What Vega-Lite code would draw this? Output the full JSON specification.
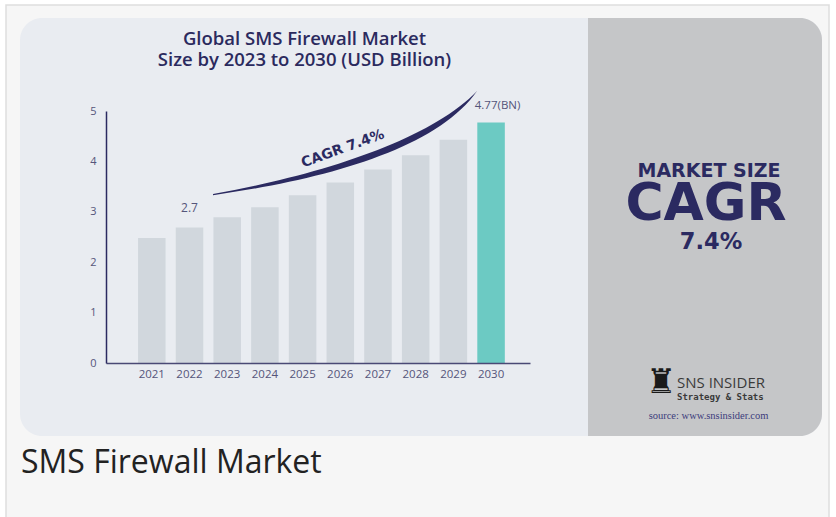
{
  "$schema": "https://vega.github.io/schema/vega-lite/v6.json",
  "width": 424,
  "height": 252,
  "autosize": {"type": "none"},
  "padding": {"left": 106, "top": 111, "right": 306, "bottom": 154},
  "background": "#ffffff",
  "config": {"view": {"stroke": null}, "font": "Open Sans"},
  "data": {
    "values": [
      {"year": "2021", "value": 2.48, "label": ""},
      {"year": "2022", "value": 2.69, "label": "2.7"},
      {"year": "2023", "value": 2.89, "label": ""},
      {"year": "2024", "value": 3.09, "label": ""},
      {"year": "2025", "value": 3.33, "label": ""},
      {"year": "2026", "value": 3.58, "label": ""},
      {"year": "2027", "value": 3.84, "label": ""},
      {"year": "2028", "value": 4.12, "label": ""},
      {"year": "2029", "value": 4.43, "label": ""},
      {"year": "2030", "value": 4.77, "label": "4.77(BN)"}
    ]
  },
  "layer": [
    {
      "data": {"values": [{}]},
      "mark": {"type": "rect", "x": -100, "x2": 723, "y": -106, "y2": 419, "fill": "#f6f6f6", "stroke": "#dedede", "strokeWidth": 1.5},
      "encoding": {}
    },
    {
      "data": {"values": [{}]},
      "mark": {"type": "rect", "x": -86, "x2": 716, "y": -93, "y2": 325, "fill": "#e9ecf1", "cornerRadius": 22},
      "encoding": {}
    },
    {
      "data": {"values": [{}]},
      "mark": {"type": "rect", "x": 482, "x2": 716, "y": -93, "y2": 325, "fill": "#c5c6c8", "cornerRadiusTopRight": 22, "cornerRadiusBottomRight": 22},
      "encoding": {}
    },
    {
      "data": {"values": [{}]},
      "mark": {"type": "text", "text": "Global SMS Firewall Market", "x": 198.5, "y": -72, "align": "center", "baseline": "middle", "font": "Open Sans", "fontSize": 18.5, "fontWeight": 600, "color": "#2b2a5e"},
      "encoding": {}
    },
    {
      "data": {"values": [{}]},
      "mark": {"type": "text", "text": "Size by 2023 to 2030 (USD Billion)", "x": 198.5, "y": -51, "align": "center", "baseline": "middle", "font": "Open Sans", "fontSize": 18.5, "fontWeight": 600, "color": "#2b2a5e"},
      "encoding": {}
    },
    {
      "mark": {"type": "bar"},
      "encoding": {
        "x": {
          "field": "year", "type": "ordinal",
          "scale": {"paddingInner": 0.27, "paddingOuter": 0.759, "align": 0.56},
          "axis": {"title": null, "labelAngle": 0, "ticks": false, "zindex": 1, "domainColor": "#4a4975", "domainWidth": 1.5, "labelColor": "#55557a", "labelFontSize": 11.5, "labelFont": "Open Sans", "labelPadding": 5}
        },
        "y": {
          "field": "value", "type": "quantitative",
          "scale": {"domain": [0, 5], "nice": false},
          "axis": {"title": null, "values": [0, 1, 2, 3, 4, 5], "grid": false, "ticks": false, "zindex": 1, "domainColor": "#2b2a61", "domainWidth": 1.5, "labelColor": "#55557a", "labelFontSize": 11, "labelFont": "Open Sans", "labelPadding": 10}
        },
        "color": {"condition": {"test": "datum.year === '2030'", "value": "#6ccac3"}, "value": "#d1d7dd"}
      }
    },
    {
      "transform": [{"filter": "datum.year === '2022'"}],
      "mark": {"type": "text", "dy": -19, "baseline": "middle", "font": "Open Sans", "fontSize": 12, "color": "#55557a"},
      "encoding": {
        "x": {"field": "year", "type": "ordinal"},
        "y": {"field": "value", "type": "quantitative"},
        "text": {"field": "label"}
      }
    },
    {
      "transform": [{"filter": "datum.year === '2030'"}],
      "mark": {"type": "text", "dy": -17, "dx": 6.5, "baseline": "middle", "font": "Open Sans", "fontSize": 11.5, "color": "#55557a"},
      "encoding": {
        "x": {"field": "year", "type": "ordinal"},
        "y": {"field": "value", "type": "quantitative"},
        "text": {"field": "label"}
      }
    },
    {
      "data": {"values": [{}]},
      "mark": {"type": "point", "filled": true, "size": 4, "opacity": 1, "strokeWidth": 0, "color": "#2b2a61", "shape": "M -127.25 12.44 C -20.25 -6.56 89.75 -41.56 136.75 -90.56 C 95.75 -31.56 -19.25 -1.56 -127.25 13.64 Z"},
      "encoding": {
        "x": {"datum": "2026", "type": "ordinal"},
        "y": {"datum": 3.6, "type": "quantitative"}
      }
    },
    {
      "data": {"values": [{}]},
      "mark": {"type": "text", "text": "CAGR 7.4%", "angle": -20, "dx": 2.75, "align": "center", "baseline": "middle", "font": "DejaVu Sans", "fontWeight": "bold", "fontSize": 14, "color": "#2b2a61"},
      "encoding": {
        "x": {"datum": "2026", "type": "ordinal"},
        "y": {"datum": 4.23, "type": "quantitative"}
      }
    },
    {
      "data": {"values": [{}]},
      "mark": {"type": "text", "text": "MARKET SIZE", "x": 603, "y": 59.5, "align": "center", "baseline": "middle", "font": "DejaVu Sans", "fontWeight": "bold", "fontSize": 19, "color": "#2b2a61"},
      "encoding": {}
    },
    {
      "data": {"values": [{}]},
      "mark": {"type": "text", "text": "CAGR", "x": 600, "y": 93, "align": "center", "baseline": "middle", "font": "DejaVu Sans", "fontWeight": "bold", "fontSize": 52, "color": "#2b2a61"},
      "encoding": {}
    },
    {
      "data": {"values": [{}]},
      "mark": {"type": "text", "text": "7.4%", "x": 605, "y": 131, "align": "center", "baseline": "middle", "font": "DejaVu Sans", "fontWeight": "bold", "fontSize": 22.5, "color": "#2b2a61"},
      "encoding": {}
    },
    {
      "data": {"values": [{}]},
      "mark": {"type": "text", "text": "♜", "x": 555, "y": 272, "align": "center", "baseline": "middle", "font": "DejaVu Sans", "fontSize": 34, "color": "#1a1a1a"},
      "encoding": {}
    },
    {
      "data": {"values": [{}]},
      "mark": {"type": "text", "text": "SNS INSIDER", "x": 571, "y": 271.5, "align": "left", "baseline": "middle", "font": "Open Sans", "fontSize": 15, "color": "#3a3a3a"},
      "encoding": {}
    },
    {
      "data": {"values": [{}]},
      "mark": {"type": "text", "text": "Strategy & Stats", "x": 571, "y": 286, "align": "left", "baseline": "middle", "font": "DejaVu Sans Mono", "fontWeight": "bold", "fontSize": 9, "color": "#3a3a3a"},
      "encoding": {}
    },
    {
      "data": {"values": [{}]},
      "mark": {"type": "text", "text": "source: www.snsinsider.com", "x": 602.5, "y": 305, "align": "center", "baseline": "middle", "font": "Liberation Serif", "fontSize": 10.5, "color": "#3c3c7c"},
      "encoding": {}
    },
    {
      "data": {"values": [{}]},
      "mark": {"type": "text", "text": "SMS Firewall Market", "x": -85, "y": 352, "align": "left", "baseline": "middle", "font": "Open Sans", "fontSize": 32, "color": "#222222"},
      "encoding": {}
    }
  ]
}
